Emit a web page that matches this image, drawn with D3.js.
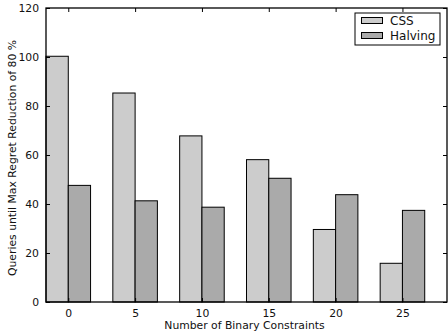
<!DOCTYPE html>
<html>
<head>
<meta charset="utf-8">
<script src="https://cdn.jsdelivr.net/npm/d3@7"></script>
<style>
  html, body { margin: 0; padding: 0; background: #fff; }
  svg { display: block; font-family: "DejaVu Sans", sans-serif; }
</style>
</head>
<body>
<div id="chart"></div>
<script>
const constraints = ['0', '5', '10', '15', '20', '25'];
const cssValues = [100.3, 85.3, 67.8, 58.1, 29.6, 15.8];
const halvingValues = [47.6, 41.3, 38.7, 50.5, 43.8, 37.4];
const seriesNames = ['CSS', 'Halving'];
const yTicks = [0, 20, 40, 60, 80, 100, 120];

const width = 448, height = 331;
const margin = { top: 8, right: 1, bottom: 29, left: 46 };
const plotW = width - margin.left - margin.right;
const plotH = height - margin.top - margin.bottom;
const colors = ['#cccccc', '#aaaaaa'];

const svg = d3.select('#chart').append('svg').attr('width', width).attr('height', height);
const g = svg.append('g').attr('transform', `translate(${margin.left},${margin.top})`);

// group index -> x; each bar is a third of the group spacing
const barW = 1 / 3;
const x = d3.scaleLinear().domain([-barW, constraints.length - 1 + 2 * barW]).range([0, plotW]);
const y = d3.scaleLinear().domain([0, 120]).range([plotH, 0]);

const rows = constraints.map((c, i) => ({ i, vals: [cssValues[i], halvingValues[i]] }));

rows.forEach(r => {
  r.vals.forEach((v, s) => {
    g.append('rect')
      .attr('x', x(r.i + (s - 1) * barW))
      .attr('y', y(v))
      .attr('width', x(barW) - x(0))
      .attr('height', y(0) - y(v))
      .attr('fill', colors[s])
      .attr('stroke', '#000')
      .attr('stroke-width', 1);
  });
});

// axes, ticks inward on all four sides (matplotlib style)
const xAxisB = d3.axisBottom(x).tickValues(d3.range(constraints.length)).tickFormat(i => constraints[i]).tickSize(-4).tickPadding(7);
const xAxisT = d3.axisTop(x).tickValues(d3.range(constraints.length)).tickFormat('').tickSize(-4);
const yAxisL = d3.axisLeft(y).tickValues(yTicks).tickSize(-4).tickPadding(7);
const yAxisR = d3.axisRight(y).tickValues(yTicks).tickFormat('').tickSize(-4);

const styleAxis = sel => {
  sel.select('.domain').remove();
  sel.selectAll('line').attr('stroke', '#000').attr('stroke-width', 1);
  sel.selectAll('text').attr('fill', '#111').style('font-size', '10.8px').style('font-family', '"DejaVu Sans", sans-serif');
};

g.append('g').attr('transform', `translate(0,${plotH})`).call(xAxisB).call(styleAxis);
g.append('g').call(xAxisT).call(styleAxis);
g.append('g').call(yAxisL).call(styleAxis);
g.append('g').attr('transform', `translate(${plotW},0)`).call(yAxisR).call(styleAxis);

g.append('rect')
  .attr('x', 0).attr('y', 0).attr('width', plotW).attr('height', plotH)
  .attr('fill', 'none').attr('stroke', '#000').attr('stroke-width', 1.3);

svg.append('text')
  .attr('x', margin.left + plotW / 2 - 2)
  .attr('y', 329)
  .attr('text-anchor', 'middle')
  .attr('fill', '#111')
  .style('font-size', '10.8px')
  .text('Number of Binary Constraints');

svg.append('text')
  .attr('transform', `translate(16,${margin.top + plotH / 2 + 3}) rotate(-90)`)
  .attr('text-anchor', 'middle')
  .attr('fill', '#111')
  .style('font-size', '10.8px')
  .text('Queries until Max Regret Reduction of 80 %');

// legend
const legend = svg.append('g').attr('transform', 'translate(355,13)');
legend.append('rect')
  .attr('width', 85).attr('height', 32)
  .attr('fill', '#fff').attr('stroke', '#000').attr('stroke-width', 1);
seriesNames.forEach((name, s) => {
  legend.append('rect')
    .attr('x', 6.5).attr('y', 4.5 + s * 15).attr('width', 21).attr('height', 6)
    .attr('fill', colors[s]).attr('stroke', '#000').attr('stroke-width', 1);
  legend.append('text')
    .attr('x', 35).attr('y', 11.5 + s * 15)
    .attr('fill', '#111')
    .style('font-size', '12px')
    .text(name);
});
</script>
</body>
</html>
